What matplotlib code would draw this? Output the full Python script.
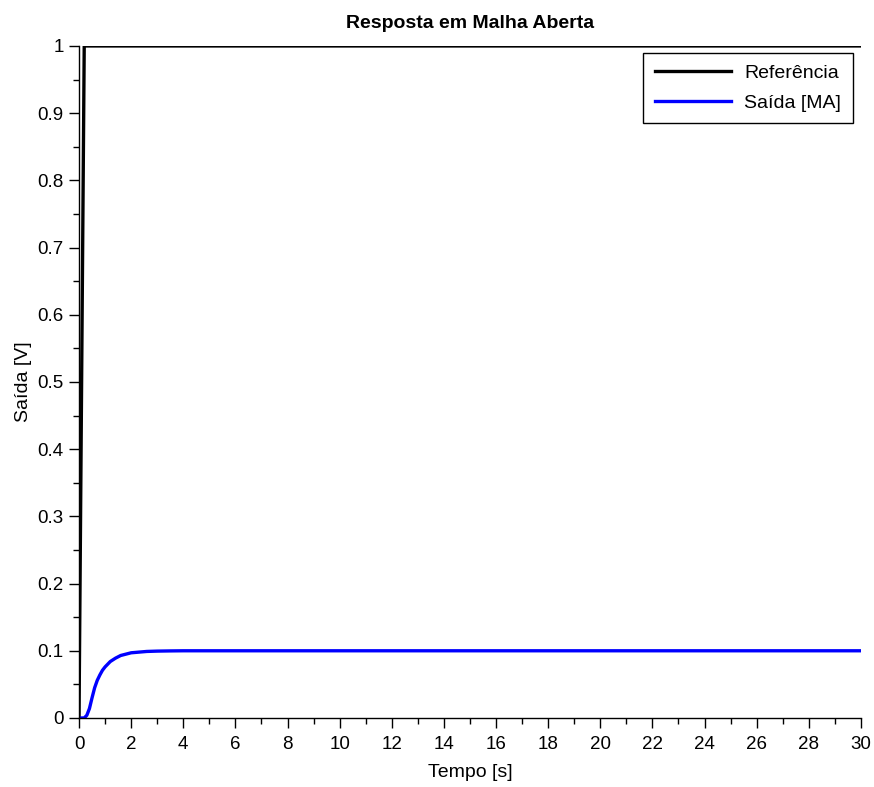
#!/usr/bin/env python3
"""Open-loop step response (Scilab-style plot) recreated with matplotlib."""
import matplotlib
matplotlib.use("Agg")
import matplotlib.pyplot as plt  # noqa: E402
from matplotlib.ticker import MultipleLocator  # noqa: E402

plt.rcParams["font.family"] = ["Liberation Sans", "DejaVu Sans"]

# reference signal: fast ramp to 1 then constant
ref_t = [0.0, 0.2, 30.0]
ref_y = [0.0, 1.0, 1.0]

# open-loop output
out_t = [0.0, 0.2, 0.3, 0.4, 0.5, 0.6, 0.7, 0.8, 0.9, 1.0, 1.2, 1.4, 1.6,
         1.8, 2.0, 2.3, 2.6, 3.0, 3.5, 4.0, 30.0]
out_y = [0.0, 0.0, 0.004, 0.014, 0.030, 0.045, 0.056, 0.064, 0.071, 0.076,
         0.084, 0.089, 0.093, 0.095, 0.097, 0.098, 0.099, 0.0995, 0.0998,
         0.1, 0.1]

x_ticks = list(range(0, 31, 2))
y_ticks = [0.0, 0.1, 0.2, 0.3, 0.4, 0.5, 0.6, 0.7, 0.8, 0.9, 1.0]
y_tick_labels = ["0", "0.1", "0.2", "0.3", "0.4", "0.5", "0.6", "0.7",
                 "0.8", "0.9", "1"]

fig = plt.figure(figsize=(8.74, 7.87), dpi=100)
ax = fig.add_axes([0.0904, 0.0877, 0.8946, 0.8539])

ax.plot(ref_t, ref_y, color="black", lw=2.4, label="Referência")
ax.plot(out_t, out_y, color="#0000ff", lw=2.4, label="Saída [MA]")

ax.set_xlim(0, 30)
ax.set_ylim(0, 1)
ax.set_xticks(x_ticks)
ax.set_xticklabels([str(v) for v in x_ticks])
ax.set_yticks(y_ticks)
ax.set_yticklabels(y_tick_labels)
ax.xaxis.set_minor_locator(MultipleLocator(1))
ax.yaxis.set_minor_locator(MultipleLocator(0.05))
ax.tick_params(which="major", direction="out", length=7, width=1,
               labelsize=13.5)
ax.tick_params(axis="x", which="major", pad=6)
ax.tick_params(axis="y", which="major", pad=4)
ax.tick_params(which="minor", direction="out", length=4, width=1)

for side in ("top", "right"):
    ax.spines[side].set_visible(False)
for side in ("left", "bottom"):
    ax.spines[side].set_linewidth(1)

ax.set_xlabel("Tempo [s]", fontsize=14, labelpad=8)
ax.set_ylabel("Saída [V]", fontsize=14, labelpad=4)
ax.set_title("Resposta em Malha Aberta", fontsize=14, fontweight="bold",
             pad=13)

leg = ax.legend(loc="upper right", bbox_to_anchor=(0.9898, 0.9896),
                borderaxespad=0, fontsize=14, fancybox=False, framealpha=1,
                edgecolor="black", handlelength=3.9, handletextpad=0.7,
                borderpad=0.6, labelspacing=0.6)
leg.get_frame().set_linewidth(1)

fig.savefig("out.png", dpi=100)
